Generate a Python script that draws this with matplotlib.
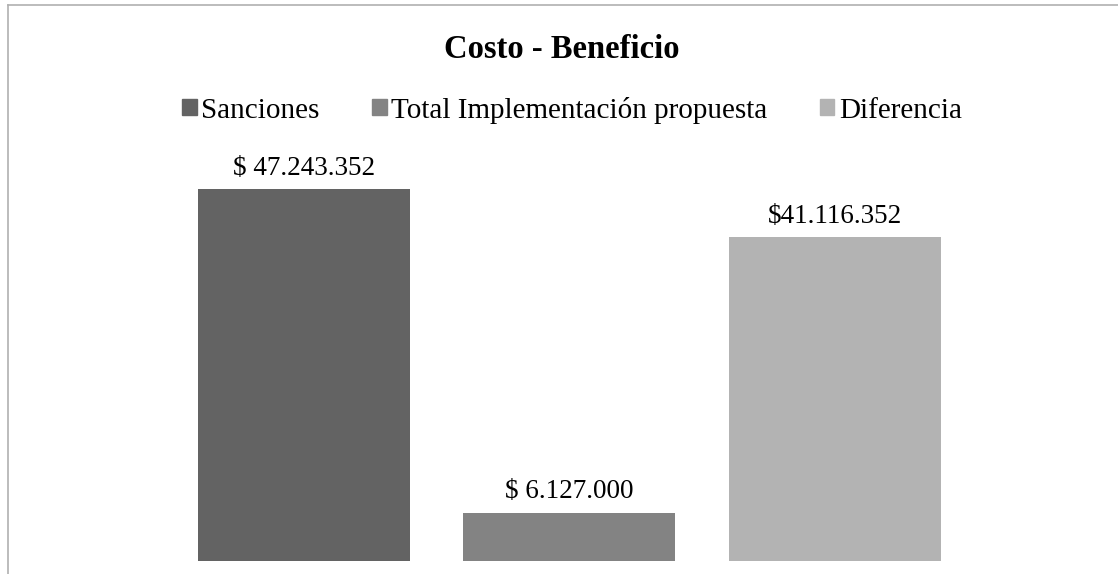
import matplotlib.pyplot as plt
from matplotlib.patches import Patch
from matplotlib.lines import Line2D

categories = ['Sanciones', 'Total Implementación propuesta', 'Diferencia']
values = [47243352, 6127000, 41116352]
value_labels = ['$ 47.243.352', '$ 6.127.000', '$41.116.352']
colors = ['#636363', '#838383', '#b3b3b3']

plt.rcParams['font.family'] = ['Liberation Serif', 'DejaVu Serif']

fig = plt.figure(figsize=(11.18, 5.74), dpi=100)
ax = fig.add_axes([171 / 1118, 13 / 574, 796.5 / 1118, 393.5 / 574])

x = range(len(categories))
bars = ax.bar(x, values, width=0.8, color=colors)
for b, lab in zip(bars, value_labels):
    ax.annotate(lab, (b.get_x() + b.get_width() / 2, b.get_height()),
                xytext=(0, 6), textcoords='offset points',
                ha='center', va='bottom', fontsize=19.5)

ax.set_xlim(-0.5, 2.5)
ax.set_ylim(0, 50000000)
ax.axis('off')

fig.text(562 / 1118, 1 - 50 / 574, 'Costo - Beneficio', ha='center', va='center',
         fontsize=23.5, fontweight='bold')

handles = [Patch(color=c) for c in colors]
fig.legend(handles, categories, loc='center', bbox_to_anchor=(572 / 1118, 1 - 110 / 574),
           ncol=3, frameon=False, fontsize=21, handlelength=0.5, handleheight=0.5,
           handletextpad=0.15, columnspacing=1.8, borderpad=0)

# chart border (left and top only visible)
fig.add_artist(Line2D([8 / 1118, 8 / 1118], [0, 1 - 5 / 574], color='#b0b0b0', lw=1.2))
fig.add_artist(Line2D([8 / 1118, 1], [1 - 5 / 574, 1 - 5 / 574], color='#b0b0b0', lw=1.2))

plt.savefig('out.png', dpi=100)
